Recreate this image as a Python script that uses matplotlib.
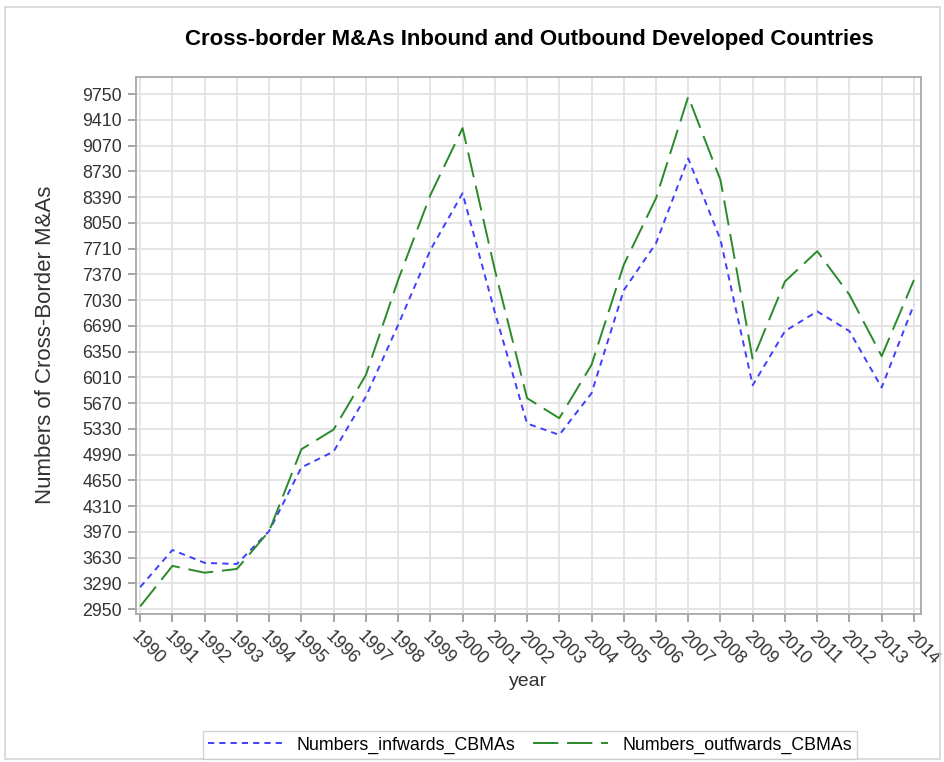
import matplotlib
matplotlib.use("Agg")
import matplotlib.pyplot as plt
from matplotlib.patches import Rectangle

# ── Data ──────────────────────────────────────────────────────────────────────
years = list(range(1990, 2015))
inwards = [3240, 3730, 3560, 3545, 3980, 4820, 5030, 5755, 6700, 7690,
           8440, 6870, 5400, 5250, 5800, 7160, 7780, 8900, 7825, 5905,
           6620, 6880, 6620, 5875, 6970]
outwards = [2985, 3520, 3430, 3480, 3980, 5060, 5320, 6040, 7295, 8415,
            9300, 7430, 5735, 5470, 6175, 7495, 8375, 9715, 8615, 6245,
            7275, 7675, 7100, 6290, 7295]
yticks = list(range(2950, 9751, 340))

plt.rcParams["font.family"] = ["Liberation Sans", "DejaVu Sans"]

W, H = 945, 762
fig = plt.figure(figsize=(W / 100, H / 100), dpi=100)

# light frame round the whole picture
fig.patches.append(Rectangle((5 / W, 3 / H), 935 / W, 752 / H, transform=fig.transFigure,
                             fill=False, edgecolor="#d4d4d4", linewidth=1.2))

ax = fig.add_axes([136 / W, 1 - 614 / H, (921 - 136) / W, (614 - 77) / H])

ax.plot(years, inwards, color="#3f3fff", linewidth=1.4, dashes=(3.2, 2.6),
        label="Numbers_infwards_CBMAs", zorder=3)
ax.plot(years, outwards, color="#2a8a2a", linewidth=1.4, dashes=(13, 4.5),
        label="Numbers_outfwards_CBMAs", zorder=3)

ax.set_xlim(1989.87, 2014.22)
ax.set_ylim(2885, 9975)
ax.set_xticks(years)
ax.set_yticks(yticks)
ax.set_yticklabels([str(v) for v in yticks], fontsize=12.8, color="#333333")
ax.set_xticklabels([str(y) for y in years], fontsize=12.8, color="#333333",
                   rotation=-45, ha="left", va="top", rotation_mode="anchor")

ax.grid(True, color="#e3e3e3", linewidth=1.3)
ax.set_axisbelow(True)
for s in ax.spines.values():
    s.set_color("#a8a8a8")
    s.set_linewidth(1.3)
ax.tick_params(axis="both", colors="#8a8a8a", length=6, width=1.1,
               labelcolor="#333333", pad=4)

fig.text(529 / W, 1 - 40 / H, "Cross-border M&As Inbound and Outbound Developed Countries",
         fontsize=16, fontweight="bold", ha="center", va="center")
fig.text(46 / W, 1 - 345 / H, "Numbers of Cross-Border M&As", rotation=90,
         fontsize=16, color="#333333", ha="center", va="center")
fig.text(528 / W, 1 - 681 / H, "year", fontsize=14, color="#333333",
         ha="center", va="center")

leg = fig.legend(*ax.get_legend_handles_labels(), loc="center",
                 bbox_to_anchor=(530 / W, 1 - 745 / H), ncol=2,
                 fontsize=12.8, frameon=True, fancybox=False, edgecolor="#c8c8c8",
                 handlelength=4.2, columnspacing=1.0, borderpad=0.3)
leg.get_frame().set_linewidth(1.0)

fig.savefig("out.png", dpi=100)
